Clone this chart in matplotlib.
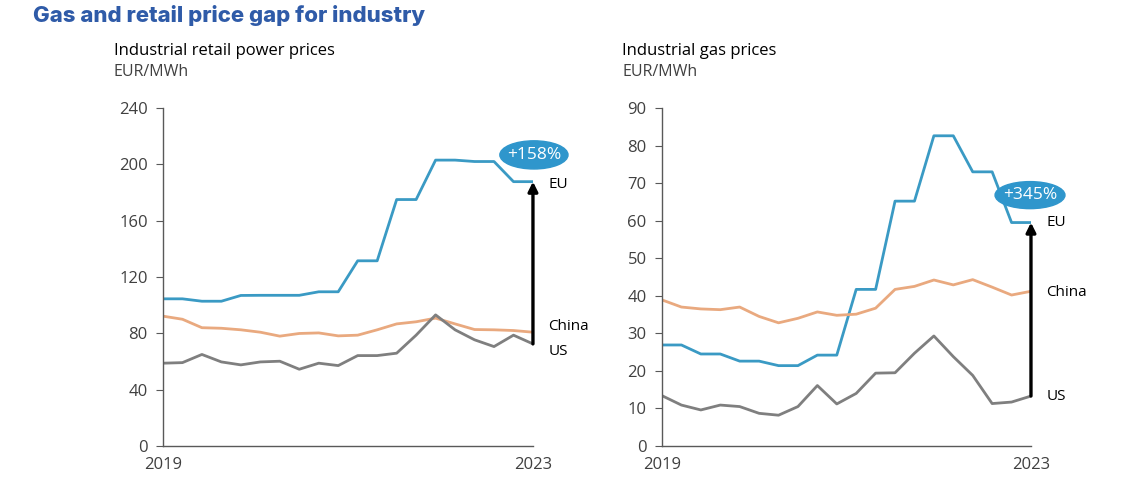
import numpy as np
import matplotlib.pyplot as plt
from matplotlib.patches import Ellipse

# quarterly points 2019 -> 2023
quarters = np.arange(20)

# Industrial retail power prices, EUR/MWh
power_eu = [104.5, 104.5, 102.8, 102.8, 106.9, 107, 107, 107, 109.5, 109.5,
            131.5, 131.5, 175, 175, 203, 203, 202, 202, 187.7, 187.7]
power_china = [92.2, 90, 84, 83.6, 82.5, 80.8, 78, 79.9, 80.3, 78.2,
               78.7, 82.5, 86.7, 88.2, 90.8, 86.7, 82.7, 82.5, 82, 80.8]
power_us = [58.8, 59.2, 65, 59.7, 57.6, 59.7, 60.2, 54.5, 58.8, 57.1,
            64.2, 64.2, 65.9, 78.7, 93.1, 82.5, 75.4, 70.6, 78.7, 72.5]

# Industrial gas prices, EUR/MWh
gas_eu = [26.9, 26.9, 24.5, 24.5, 22.6, 22.6, 21.4, 21.4, 24.2, 24.2,
          41.7, 41.7, 65.2, 65.2, 82.6, 82.6, 73, 73, 59.5, 59.5]
gas_china = [38.9, 37, 36.5, 36.3, 37, 34.5, 32.8, 34, 35.7, 34.8,
             35.1, 36.7, 41.7, 42.5, 44.2, 42.9, 44.3, 42.3, 40.2, 41.2]
gas_us = [13.4, 10.9, 9.6, 10.9, 10.5, 8.7, 8.2, 10.5, 16.1, 11.2,
          14, 19.4, 19.5, 24.7, 29.3, 23.8, 18.8, 11.3, 11.7, 13.3]

year_labels = ['2019', '2023']

c_eu = '#3a9ac4'
c_china = '#e9a97f'
c_us = '#7f7f7f'
c_badge = '#2f96cc'
c_text = '#404040'

plt.rcParams['font.family'] = ['Open Sans', 'DejaVu Sans']

fig = plt.figure(figsize=(11.27, 4.83), dpi=100)
fig.text(0.029, 0.968, 'Gas and retail price gap for industry', fontsize=16,
         fontweight='heavy', color='#2f5ba8', family=['Inter', 'DejaVu Sans'],
         va='center', ha='left')


def draw_panel(rect, title, eu, china, us, ymax, ystep, badge, badge_xy,
               badge_wh, label_y, title_x):
    ax = fig.add_axes(rect)
    ax.plot(quarters, eu, color=c_eu, lw=2.0)
    ax.plot(quarters, china, color=c_china, lw=2.0)
    ax.plot(quarters, us, color=c_us, lw=2.0)

    # gap arrow between US and EU at the last point
    ax.annotate('', xy=(19, eu[-1]), xytext=(19, us[-1]),
                arrowprops=dict(arrowstyle='-|>', color='black', lw=2.4,
                                mutation_scale=14, shrinkA=0, shrinkB=0))

    ell = Ellipse(badge_xy, badge_wh[0], badge_wh[1], color=c_badge,
                  clip_on=False, zorder=5)
    ax.add_patch(ell)
    ax.text(badge_xy[0], badge_xy[1], badge, color='white', fontsize=12.5,
            ha='center', va='center', zorder=6)

    for name, yv in zip(['EU', 'China', 'US'], label_y):
        ax.text(19.8, yv, name, fontsize=11, color='black', ha='left',
                va='center', clip_on=False)

    ax.set_xlim(0, 19)
    ax.set_ylim(0, ymax)
    ax.set_yticks(np.arange(0, ymax + 1, ystep))
    ax.set_xticks([0, 19])
    ax.set_xticklabels(year_labels)
    for s in ['top', 'right']:
        ax.spines[s].set_visible(False)
    for s in ['left', 'bottom']:
        ax.spines[s].set_color('#595959')
        ax.spines[s].set_linewidth(1.0)
    ax.tick_params(axis='y', length=5, color='#595959', labelsize=12,
                   labelcolor=c_text, pad=6)
    ax.tick_params(axis='x', length=0, labelsize=12, labelcolor=c_text, pad=8)

    fig.text(title_x, 0.895, title, fontsize=12, color='black', ha='left',
             va='center')
    fig.text(title_x, 0.851, 'EUR/MWh', fontsize=11.5, color=c_text,
             ha='left', va='center')
    return ax


draw_panel([0.1446, 0.0766, 0.3283, 0.6998], 'Industrial retail power prices',
           power_eu, power_china, power_us, 240, 40, '+158%',
           (19.05, 206.7), (3.5, 20), (186, 85, 66.8), 0.101)

draw_panel([0.5874, 0.0766, 0.3274, 0.6998], 'Industrial gas prices',
           gas_eu, gas_china, gas_us, 90, 10, '+345%',
           (18.95, 66.8), (3.6, 7.2), (59.6, 41, 13.3), 0.552)

fig.savefig('out.png', dpi=100)
